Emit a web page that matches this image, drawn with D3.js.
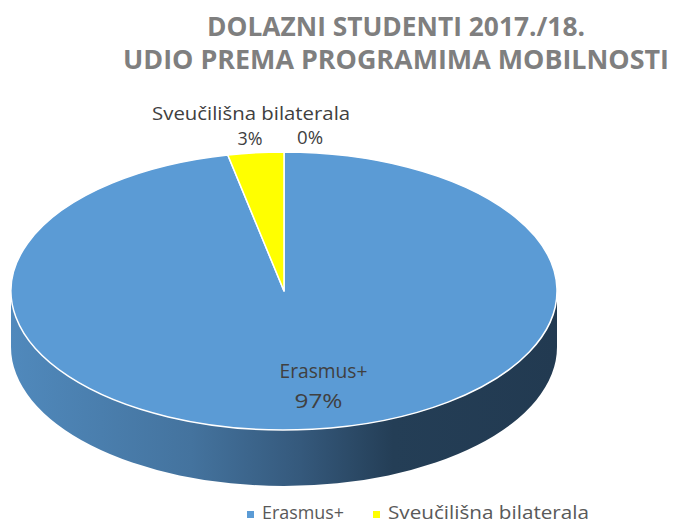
<!DOCTYPE html>
<html>
<head>
<meta charset="utf-8">
<script src="https://cdn.jsdelivr.net/npm/d3@7"></script>
<style>
  body { margin: 0; background: #fff; }
  svg { display: block; font-family: "Open Sans", "Noto Sans", sans-serif; }
</style>
</head>
<body>
<div id="chart"></div>
<script>
// 1: DATA
const categories = ["Erasmus+", "Sveučilišna bilaterala", ""];
const shares = [96.7, 3.3, 0];           // percent of incoming students
const pctLabels = ["97%", "3%", "0%"];
const colors = ["#5b9bd5", "#ffff00", "#a5a5a5"];
const titleLines = ["DOLAZNI STUDENTI 2017./18.", "UDIO PREMA PROGRAMIMA MOBILNOSTI"];

// 2: GLOBALS
const W = 676, H = 525;
const cx = 284, cy = 291;      // centre of the top face
const rx = 273, ry = 139;      // ellipse radii
const depth = 56;              // thickness of the pie

const svg = d3.select("#chart")
    .append("svg")
    .attr("width", W)
    .attr("height", H);

// fit a text element to a given width (Calibri is narrower than the fonts we have)
function fit(sel, w) {
    sel.attr("textLength", w).attr("lengthAdjust", "spacingAndGlyphs");
    return sel;
}

// 3: TITLE
const titleBase = [36, 69];
const titleWidth = [378, 546];
titleLines.forEach((t, i) => {
    fit(svg.append("text")
        .attr("x", 396)
        .attr("y", titleBase[i])
        .attr("text-anchor", "middle")
        .style("font-size", "26.5px")
        .style("font-weight", "bold")
        .style("fill", "#7f7f7f")
        .text(t), titleWidth[i]);
});

// 4: PIE LAYOUT
const pie = d3.pie().sort(null).value(d => d).startAngle(0).endAngle(2 * Math.PI);
const arcs = pie(shares);

const pt = (a, dy = 0) => [cx + rx * Math.sin(a), cy - ry * Math.cos(a) + dy];

// side gradient
const defs = svg.append("defs");
const grad = defs.append("linearGradient")
    .attr("id", "sideGrad")
    .attr("gradientUnits", "userSpaceOnUse")
    .attr("x1", cx - rx).attr("y1", 0)
    .attr("x2", cx + rx).attr("y2", 0);
[[0, "#5089bc"], [0.33, "#44739e"], [0.53, "#35597c"], [0.7, "#243e56"], [1, "#223a51"]]
    .forEach(([o, c]) => grad.append("stop").attr("offset", o).attr("stop-color", c));

// 5: SIDES (only the front half, angles PI/2 .. 3PI/2, is visible)
arcs.forEach((d, i) => {
    const s = Math.max(d.startAngle, Math.PI / 2);
    const e = Math.min(d.endAngle, 3 * Math.PI / 2);
    if (e <= s) return;
    const large = (e - s) > Math.PI ? 1 : 0;
    const [x0, y0] = pt(s), [x1, y1] = pt(e);
    const [bx0, by0] = pt(s, depth), [bx1, by1] = pt(e, depth);
    const p = `M${x0},${y0} A${rx},${ry} 0 ${large} 1 ${x1},${y1}` +
        ` L${bx1},${by1} A${rx},${ry} 0 ${large} 0 ${bx0},${by0} Z`;
    svg.append("path")
        .attr("d", p)
        .attr("fill", i === 0 ? "url(#sideGrad)" : d3.color(colors[i]).darker(1.2));
});

// 6: TOP FACE
const arc = d3.arc().innerRadius(0).outerRadius(rx);
svg.append("g")
    .attr("transform", `translate(${cx},${cy}) scale(1,${ry / rx})`)
    .selectAll("path")
    .data(arcs.filter(d => d.endAngle > d.startAngle))
    .join("path")
    .attr("d", arc)
    .attr("fill", d => colors[d.index])
    .attr("stroke", "#fff")
    .attr("stroke-width", 1.5)
    .attr("stroke-linejoin", "round")
    .attr("vector-effect", "non-scaling-stroke");

// 7: DATA LABELS
const labelColor = "#404040";
const big = arcs[0];
const mid = (big.startAngle + big.endAngle) / 2;
const [ex, ey] = [cx + rx * 0.69 * Math.sin(mid), cy - ry * 0.69 * Math.cos(mid)];
fit(svg.append("text").attr("x", ex + 20).attr("y", ey - 8)
    .attr("text-anchor", "middle").style("font-size", "20px").style("fill", labelColor)
    .text(categories[0]), 88);
fit(svg.append("text").attr("x", ex + 15).attr("y", ey + 22)
    .attr("text-anchor", "middle").style("font-size", "20px").style("fill", labelColor)
    .text(pctLabels[0]), 48);

// outside labels for the small slices
const outside = arcs.slice(1).map(d => {
    const a = (d.startAngle + d.endAngle) / 2;
    return { d, x: cx + rx * 1.2 * Math.sin(a), y: cy - ry * 1.2 * Math.cos(a) };
});
const s1 = outside[0];
fit(svg.append("text").attr("x", s1.x + 1).attr("y", s1.y - 5)
    .attr("text-anchor", "middle").style("font-size", "18.5px").style("fill", labelColor)
    .text(categories[1]), 198);
fit(svg.append("text").attr("x", s1.x).attr("y", s1.y + 20)
    .attr("text-anchor", "middle").style("font-size", "18.5px").style("fill", labelColor)
    .text(pctLabels[1]), 25);
const s2 = outside[1];
fit(svg.append("text").attr("x", s2.x + 26).attr("y", s2.y + 20)
    .attr("text-anchor", "middle").style("font-size", "18.5px").style("fill", labelColor)
    .text(pctLabels[2]), 26);

// 8: LEGEND
const legendX = [247, 373];
const legendW = [82, 201];
const legend = svg.append("g");
categories.slice(0, 2).forEach((c, i) => {
    legend.append("rect")
        .attr("x", legendX[i]).attr("y", 511)
        .attr("width", 7).attr("height", 7)
        .attr("fill", colors[i]);
    fit(legend.append("text")
        .attr("x", legendX[i] + 15).attr("y", 519)
        .style("font-size", "19px")
        .style("fill", "#595959")
        .text(c), legendW[i]);
});
</script>
</body>
</html>
